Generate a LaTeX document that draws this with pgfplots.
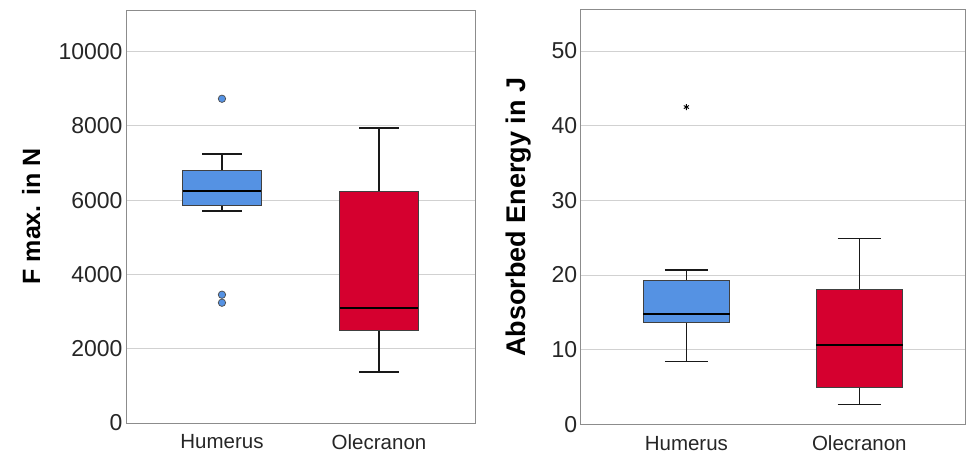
\documentclass[border=0pt]{standalone}
\usepackage{fontspec}
\setmainfont{Liberation Sans}
\usepackage{pgfplots}
\pgfplotsset{compat=1.18}
\usepgfplotslibrary{statistics}
\definecolor{humblue}{HTML}{5592E3}
\definecolor{olered}{HTML}{D5002F}

\pgfplotsset{spssbox/.style={
  scale only axis, xmin=0.389, xmax=2.611, xtick={1,2}, xticklabels={Humerus,Olecranon},
  major tick length=0, ymajorgrids, grid style={color=black!18, line width=0.9pt},
  axis line style={draw=black!45, line width=0.8pt},
  tick label style={text=black!85}, scaled y ticks=false,
  yticklabel style={font=\fontsize{23}{25}\selectfont},
  xticklabel style={font=\fontsize{20.5}{23}\selectfont, yshift=-8pt},
  /pgf/number format/assume math mode=true,
  /pgf/number format/set thousands separator={},
  boxplot/draw direction=y,
  boxplot/box extend=0.5, boxplot/whisker extend=0.25,
  boxplot/every median/.style={black, line width=2pt},
  boxplot/every whisker/.style={black!90, line width=1.6pt},
}}

\begin{document}
\begin{tikzpicture}
\useasboundingbox (0,0) rectangle (966pt,454pt);
% left: maximum force
\begin{axis}[spssbox, at={(126pt,31pt)}, anchor=south west, width=349pt, height=413pt,
  ymin=0, ymax=11120, ytick={0,2000,...,10000},
  ylabel={F max. in N},
  ylabel style={font=\bfseries\fontsize{25}{28}\selectfont, at={(axis description cs:-0.272,0.5)}, anchor=center}]
\addplot[boxplot prepared={draw position=1, lower whisker=5707, lower quartile=5868,
    median=6253, upper quartile=6810, upper whisker=7249},
  boxplot/every box/.style={fill=humblue, draw=black!75, line width=0.8pt},
  mark=*, mark size=3.7pt, mark options={fill=humblue, draw=black!70, line width=0.7pt}]
  table[row sep=\\, y index=0] {x\\ 8730\\ 3454\\ 3238\\};
\addplot[boxplot prepared={draw position=2, lower whisker=1365, lower quartile=2485,
    median=3096, upper quartile=6237, upper whisker=7941},
  boxplot/every box/.style={fill=olered, draw=black!75, line width=0.8pt}]
  coordinates {};
\end{axis}
% right: absorbed energy
\begin{axis}[spssbox, at={(580.7pt,29.6pt)}, anchor=south west, width=384.3pt, height=414.7pt,
  ymin=0, ymax=55.54, ytick={0,10,...,50},
  ylabel={Absorbed Energy in J},
  ylabel style={font=\bfseries\fontsize{27}{30}\selectfont, at={(axis description cs:-0.162,0.5)}, anchor=center}]
\addplot[boxplot prepared={draw position=1, lower whisker=8.44, lower quartile=13.66,
    median=14.73, upper quartile=19.33, upper whisker=20.66},
  boxplot/every box/.style={fill=humblue, draw=black!75, line width=0.8pt},
  mark=asterisk, mark size=3pt, mark options={black, line width=0.9pt}]
  table[row sep=\\, y index=0] {x\\ 42.5\\};
\addplot[boxplot prepared={draw position=2, lower whisker=2.68, lower quartile=5.0,
    median=10.62, upper quartile=18.04, upper whisker=24.87},
  boxplot/every box/.style={fill=olered, draw=black!75, line width=0.8pt}]
  coordinates {};
\end{axis}
\end{tikzpicture}
\end{document}
